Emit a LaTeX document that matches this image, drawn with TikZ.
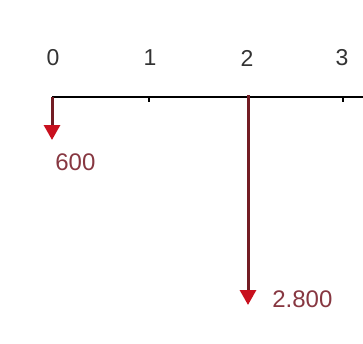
\documentclass[tikz,border=0pt]{standalone}
\usepackage{fontspec}
\setmainfont{Liberation Sans}
\usetikzlibrary{arrows.meta}
\definecolor{flowred}{RGB}{115,28,35}
\definecolor{tipred}{RGB}{200,16,30}
\definecolor{textred}{RGB}{135,55,65}

\begin{document}
\begin{tikzpicture}[x=1pt, y=-1pt, line width=2pt,
    flow/.style={flowred, line width=3pt,
      -{Triangle[color=tipred, length=15pt, width=16pt]}},
    period/.style={text=black!80, font=\fontsize{23}{27}\selectfont},
    amount/.style={text=textred, anchor=west, font=\fontsize{24}{28}\selectfont}]

    \useasboundingbox (0,0) rectangle (363,343);

    % ---------- time axis ----------
    \coordinate (t0) at (52,97);
    \coordinate (t1) at (149,97);
    \coordinate (t2) at (248,97);
    \coordinate (t3) at (343,97);
    \coordinate (axisend) at (363,97);
    \draw (t0) -- (axisend);

    % ---------- ticks ----------
    \foreach \i in {1,3}
      \draw[line width=1.5pt] (t\i) -- ++(0,5);

    % ---------- period labels ----------
    \foreach \i/\x in {0/53,1/150,2/247,3/342}
      \node[period] (p\i) at (\x,58) {\i};

    % ---------- cash flows ----------
    \coordinate (e0) at (52,140);
    \draw[flow] (t0) -- (e0);

    \coordinate (s2) at (248,95);
    \coordinate (e2) at (248,305);
    \draw[flow] (s2) -- (e2);

    % ---------- amounts ----------
    \node[amount] (a0) at (51,162) {600};
    \node[amount] (a2) at (268,299) {2.800};

\end{tikzpicture}
\end{document}
